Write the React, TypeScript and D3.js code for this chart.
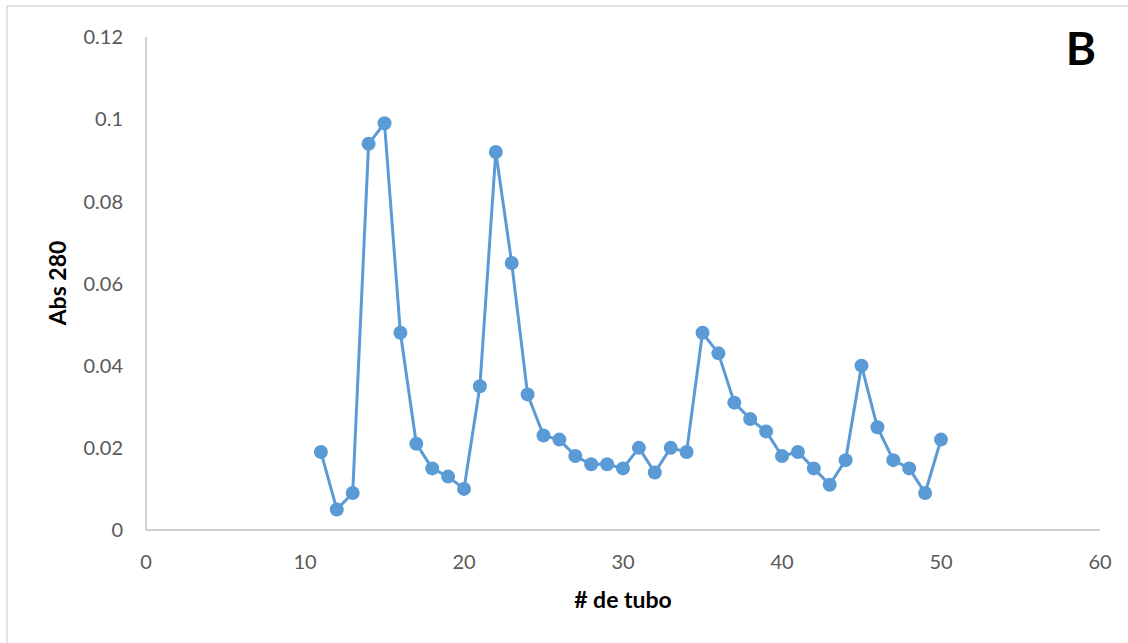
import * as d3 from 'd3';

const tubes = [11, 12, 13, 14, 15, 16, 17, 18, 19, 20, 21, 22, 23, 24, 25, 26, 27, 28, 29, 30,
    31, 32, 33, 34, 35, 36, 37, 38, 39, 40, 41, 42, 43, 44, 45, 46, 47, 48, 49, 50];
const absValues = [0.019, 0.005, 0.009, 0.094, 0.099, 0.048, 0.021, 0.015, 0.013, 0.010,
    0.035, 0.092, 0.065, 0.033, 0.023, 0.022, 0.018, 0.016, 0.016, 0.015,
    0.020, 0.014, 0.020, 0.019, 0.048, 0.043, 0.031, 0.027, 0.024, 0.018,
    0.019, 0.015, 0.011, 0.017, 0.040, 0.025, 0.017, 0.015, 0.009, 0.022];
const xTicks = [0, 10, 20, 30, 40, 50, 60];
const yTicks = [0, 0.02, 0.04, 0.06, 0.08, 0.1, 0.12];

const W = 1128;
const H = 643;
const FONT = 'Lato, "Open Sans", sans-serif';

export default function App() {
    const x = d3.scaleLinear().domain([0, 60]).range([146, 1100]);
    const y = d3.scaleLinear().domain([0, 0.12]).range([530, 37]);
    const points = tubes.map((t, i) => ({ t, v: absValues[i] }));
    const line = d3
        .line<{ t: number; v: number }>()
        .x((d) => x(d.t))
        .y((d) => y(d.v));

    return (
        <svg width={W} height={H} style={{ position: 'absolute', left: 0, top: 0 }}>
            <rect x={0} y={0} width={W} height={H} fill="#fff" />
            <rect x={7} y={6} width={W + 10} height={H + 10} fill="none" stroke="#d9d9d9" strokeWidth={1.5} />
            <line x1={x(0)} x2={x(0)} y1={y(0.12)} y2={y(0)} stroke="#bfbfbf" strokeWidth={1.5} />
            <line x1={x(0)} x2={x(60)} y1={y(0)} y2={y(0)} stroke="#bfbfbf" strokeWidth={1.5} />
            {yTicks.map((v) => (
                <text key={v} x={123} y={y(v)} dy="0.36em" textAnchor="end" fontFamily={FONT} fontSize={20} fill="#595959">
                    {String(v)}
                </text>
            ))}
            {xTicks.map((v) => (
                <text key={v} x={x(v)} y={569} textAnchor="middle" fontFamily={FONT} fontSize={20} fill="#595959">
                    {v}
                </text>
            ))}
            <path d={line(points) ?? ''} fill="none" stroke="#5b9bd5" strokeWidth={3} strokeLinejoin="round" />
            {points.map((p) => (
                <circle key={p.t} cx={x(p.t)} cy={y(p.v)} r={7} fill="#5b9bd5" />
            ))}
            <text x={623} y={608} textAnchor="middle" fontFamily={FONT} fontSize={23} fontWeight="bold" fill="#000">
                # de tubo
            </text>
            <text
                transform={`translate(66,${283}) rotate(-90)`}
                textAnchor="middle"
                fontFamily={FONT}
                fontSize={23}
                fontWeight="bold"
                fill="#000"
            >
                Abs 280
            </text>
            <text x={1081} y={65} textAnchor="middle" fontFamily={FONT} fontSize={46} fontWeight="bold" fill="#000">
                B
            </text>
        </svg>
    );
}
